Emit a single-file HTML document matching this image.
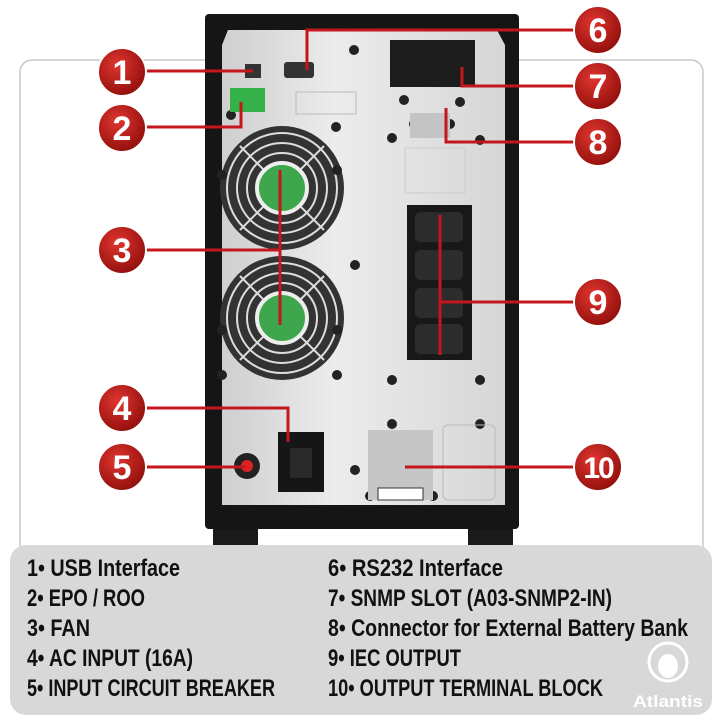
<!DOCTYPE html>
<html><head><meta charset="utf-8"><style>
html,body{margin:0;padding:0;background:#fff;width:720px;height:720px;overflow:hidden}
svg{display:block}
.n{font-family:"Liberation Sans",sans-serif;font-weight:bold;fill:#fff;text-anchor:middle}
.t{font-family:"Liberation Sans",sans-serif;font-weight:bold;font-size:24px;fill:#111}
</style></head><body>
<svg width="720" height="720" viewBox="0 0 720 720">
<defs>
<linearGradient id="pan" x1="0" x2="1"><stop offset="0" stop-color="#cfcfcf"/><stop offset="0.4" stop-color="#ececec"/><stop offset="1" stop-color="#d6d6d6"/></linearGradient>
<radialGradient id="rc" cx="0.4" cy="0.35" r="0.7"><stop offset="0" stop-color="#e0352f"/><stop offset="1" stop-color="#8e0e0b"/></radialGradient>
</defs>
<rect x="20" y="60" width="683" height="520" rx="12" fill="#fff" stroke="#c8c8c8" stroke-width="1.5"/>
<rect x="213" y="515" width="45" height="48" rx="8" fill="#1a1a1a"/>
<rect x="468" y="515" width="45" height="48" rx="8" fill="#1a1a1a"/>
<rect x="205" y="14" width="314" height="515" rx="4" fill="#151515"/>
<polygon points="228,30 497,30 505,45 505,505 222,505 222,45" fill="url(#pan)"/>
<g fill="none" stroke="#222">
<circle cx="282" cy="188" r="62" fill="#333" stroke="none"/>
<circle cx="282" cy="188" r="55" stroke="#ddd" stroke-width="2"/>
<circle cx="282" cy="188" r="45" stroke="#ddd" stroke-width="2"/>
<circle cx="282" cy="188" r="35" stroke="#ddd" stroke-width="2"/>
<line x1="240" y1="146" x2="324" y2="230" stroke="#ddd" stroke-width="2"/>
<line x1="324" y1="146" x2="240" y2="230" stroke="#ddd" stroke-width="2"/>
<circle cx="282" cy="188" r="25" fill="#3ea64c" stroke="#eee" stroke-width="4"/>
<circle cx="282" cy="318" r="62" fill="#333" stroke="none"/>
<circle cx="282" cy="318" r="55" stroke="#ddd" stroke-width="2"/>
<circle cx="282" cy="318" r="45" stroke="#ddd" stroke-width="2"/>
<circle cx="282" cy="318" r="35" stroke="#ddd" stroke-width="2"/>
<line x1="240" y1="276" x2="324" y2="360" stroke="#ddd" stroke-width="2"/>
<line x1="324" y1="276" x2="240" y2="360" stroke="#ddd" stroke-width="2"/>
<circle cx="282" cy="318" r="25" fill="#3ea64c" stroke="#eee" stroke-width="4"/>
</g>
<g fill="#222">
<circle cx="354" cy="50" r="5"/><circle cx="222" cy="175" r="5"/><circle cx="337" cy="170" r="5"/>
<circle cx="231" cy="115" r="5"/><circle cx="336" cy="127" r="5"/>
<circle cx="404" cy="100" r="5"/><circle cx="460" cy="102" r="5"/><circle cx="414" cy="124" r="5"/><circle cx="450" cy="124" r="5"/>
<circle cx="392" cy="138" r="5"/><circle cx="480" cy="140" r="5"/>
<circle cx="222" cy="330" r="5"/><circle cx="337" cy="330" r="5"/><circle cx="222" cy="375" r="5"/><circle cx="337" cy="375" r="5"/><circle cx="355" cy="265" r="5"/><circle cx="392" cy="380" r="5"/><circle cx="480" cy="380" r="5"/>
<circle cx="392" cy="424" r="5"/><circle cx="480" cy="424" r="5"/><circle cx="370" cy="496" r="5"/><circle cx="355" cy="470" r="5"/><circle cx="433" cy="496" r="5"/>
</g>
<rect x="245" y="64" width="16" height="14" fill="#333"/>
<rect x="284" y="62" width="30" height="16" rx="3" fill="#333"/>
<rect x="230" y="88" width="35" height="24" fill="#35b14a"/>
<rect x="296" y="92" width="60" height="22" fill="none" stroke="#bbb"/>
<rect x="390" y="40" width="85" height="47" fill="#1d1d1d"/>
<rect x="410" y="113" width="40" height="25" fill="#c4c4c4"/>
<rect x="407" y="205" width="65" height="155" fill="#181818"/>
<g fill="#2c2c2c"><rect x="415" y="212" width="48" height="30" rx="5"/><rect x="415" y="250" width="48" height="30" rx="5"/><rect x="415" y="288" width="48" height="30" rx="5"/><rect x="415" y="324" width="48" height="30" rx="5"/></g>
<rect x="405" y="148" width="60" height="45" fill="none" stroke="#ccc"/>
<rect x="278" y="432" width="46" height="60" fill="#161616"/>
<rect x="290" y="448" width="22" height="30" fill="#2a2a2a"/>
<circle cx="247" cy="466" r="13" fill="#222"/><circle cx="247" cy="466" r="6" fill="#d22"/>
<rect x="368" y="430" width="65" height="70" fill="#c6c6c6"/>
<rect x="443" y="425" width="52" height="75" rx="5" fill="none" stroke="#bbb"/>
<rect x="378" y="488" width="45" height="12" fill="#fff" stroke="#333"/>
<g stroke="#c4161c" stroke-width="3" fill="none">
<polyline points="122,71 253,71"/>
<polyline points="122,127 241,127 241,102"/>
<polyline points="122,250 280,250"/><line x1="280" y1="170" x2="280" y2="325"/>
<polyline points="122,408 288,408 288,442"/>
<polyline points="122,467 246,467"/>
<polyline points="598,30 307,30 307,70"/>
<polyline points="598,86 462,86 462,67"/>
<polyline points="598,142 446,142 446,108"/>
<polyline points="598,302 440,302"/><line x1="440" y1="215" x2="440" y2="355"/>
<polyline points="598,467 405,467"/>
</g>
<g>
<g transform="translate(122,72)"><circle r="24" fill="url(#rc)" stroke="#fff" stroke-width="2"/><text class="n" y="12" font-size="34">1</text></g>
<g transform="translate(122,128)"><circle r="24" fill="url(#rc)" stroke="#fff" stroke-width="2"/><text class="n" y="12" font-size="34">2</text></g>
<g transform="translate(122,250)"><circle r="24" fill="url(#rc)" stroke="#fff" stroke-width="2"/><text class="n" y="12" font-size="34">3</text></g>
<g transform="translate(122,408)"><circle r="24" fill="url(#rc)" stroke="#fff" stroke-width="2"/><text class="n" y="12" font-size="34">4</text></g>
<g transform="translate(122,467)"><circle r="24" fill="url(#rc)" stroke="#fff" stroke-width="2"/><text class="n" y="12" font-size="34">5</text></g>
<g transform="translate(598,30)"><circle r="24" fill="url(#rc)" stroke="#fff" stroke-width="2"/><text class="n" y="12" font-size="34">6</text></g>
<g transform="translate(598,86)"><circle r="24" fill="url(#rc)" stroke="#fff" stroke-width="2"/><text class="n" y="12" font-size="34">7</text></g>
<g transform="translate(598,142)"><circle r="24" fill="url(#rc)" stroke="#fff" stroke-width="2"/><text class="n" y="12" font-size="34">8</text></g>
<g transform="translate(598,302)"><circle r="24" fill="url(#rc)" stroke="#fff" stroke-width="2"/><text class="n" y="12" font-size="34">9</text></g>
<g transform="translate(598,467)"><circle r="24" fill="url(#rc)" stroke="#fff" stroke-width="2"/><text class="n" y="11" font-size="30" letter-spacing="-2">10</text></g>
</g>
<rect x="10" y="545" width="702" height="170" rx="16" fill="#d8d8d8"/>
<g class="t">
<text x="27" y="576" textLength="153" lengthAdjust="spacingAndGlyphs">1• USB Interface</text>
<text x="27" y="606" textLength="118" lengthAdjust="spacingAndGlyphs">2• EPO / ROO</text>
<text x="27" y="636" textLength="63" lengthAdjust="spacingAndGlyphs">3• FAN</text>
<text x="27" y="666" textLength="166" lengthAdjust="spacingAndGlyphs">4• AC INPUT (16A)</text>
<text x="27" y="696" textLength="248" lengthAdjust="spacingAndGlyphs">5• INPUT CIRCUIT BREAKER</text>
<text x="328" y="576" textLength="175" lengthAdjust="spacingAndGlyphs">6• RS232 Interface</text>
<text x="328" y="606" textLength="284" lengthAdjust="spacingAndGlyphs">7• SNMP SLOT (A03-SNMP2-IN)</text>
<text x="328" y="636" textLength="360" lengthAdjust="spacingAndGlyphs">8• Connector for External Battery Bank</text>
<text x="328" y="666" textLength="133" lengthAdjust="spacingAndGlyphs">9• IEC OUTPUT</text>
<text x="328" y="696" textLength="275" lengthAdjust="spacingAndGlyphs">10• OUTPUT TERMINAL BLOCK</text>
</g>
<circle cx="668" cy="662" r="19" fill="none" stroke="#fff" stroke-width="3"/>
<ellipse cx="668" cy="666" rx="10" ry="12" fill="#fff"/>
<text x="668" y="707" font-family="Liberation Sans,sans-serif" font-weight="bold" font-size="17" fill="#fff" text-anchor="middle" textLength="70" lengthAdjust="spacingAndGlyphs">Atlantis</text>
</svg>
</body></html>
